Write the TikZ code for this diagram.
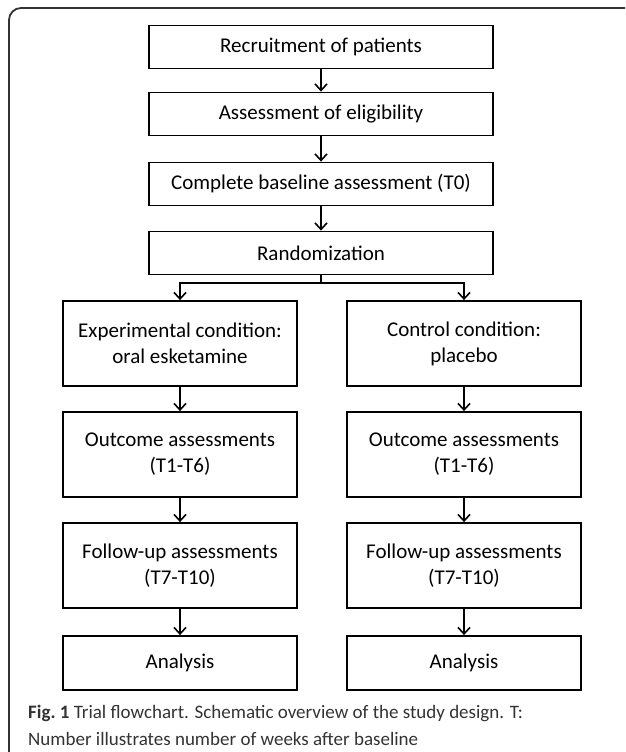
\documentclass[tikz,border=0pt]{standalone}
\usepackage{fontspec}
\setmainfont{Carlito}
\usepackage{tikz}
\usetikzlibrary{arrows.meta}
\definecolor{FrameGray}{HTML}{333333}

\begin{document}
\begin{tikzpicture}[
    x=1pt, y=-1pt,
    every node/.style={
        font=\fontsize{21}{26}\selectfont,
        align=center
    },
    stage/.style={
        rectangle,
        draw=black,
        line width=1.8pt,
        minimum width=344pt,
        minimum height=43pt,
        inner sep=0pt
    },
    armbox/.style={
        rectangle,
        draw=black,
        line width=1.8pt,
        minimum width=234pt,
        minimum height=85pt,
        inner sep=0pt
    },
    every path/.style={
        line width=1.6pt
    },
    flow/.style={
        -{Straight Barb[length=6.5pt,width=12pt,line width=1.6pt]}
    }
]
\useasboundingbox (0,0) rectangle (625,752);

% frame
\draw[FrameGray, line width=1.8pt, rounded corners=12pt]
    (625,8) -- (9,8) -- (9,752);

\node[stage] (recruit) at (321,47) {Recruitment of patients};
\node[stage] (elig) at (321,114) {Assessment of eligibility};
\node[stage] (base) at (321,184) {Complete baseline assessment (T0)};
\node[stage] (rand) at (321,253) {Randomization};

\node[armbox] (exp) at (180,343.5) {Experimental condition:\\oral esketamine};
\node[armbox] (expout) at (180,454.5) {Outcome assessments\\(T1-T6)};
\node[armbox] (expfol) at (180,565.5) {Follow-up assessments\\(T7-T10)};
\node[armbox, minimum height=54pt] (expana) at (180,663) {Analysis};

\node[armbox] (ctl) at (464,343.5) {Control condition:\\placebo};
\node[armbox] (ctlout) at (464,454.5) {Outcome assessments\\(T1-T6)};
\node[armbox] (ctlfol) at (464,565.5) {Follow-up assessments\\(T7-T10)};
\node[armbox, minimum height=54pt] (ctlana) at (464,663) {Analysis};

\coordinate (split) at (321,283);

\draw[flow] (recruit)--(elig);
\draw[flow] (elig)--(base);
\draw[flow] (base)--(rand);

\draw (rand.south)--(split);
\draw[flow] (split)-|(exp.north);
\draw[flow] (split)-|(ctl.north);

\draw[flow] (exp)--(expout);
\draw[flow] (expout)--(expfol);
\draw[flow] (expfol)--(expana);
\draw[flow] (ctl)--(ctlout);
\draw[flow] (ctlout)--(ctlfol);
\draw[flow] (ctlfol)--(ctlana);

% caption
\node[anchor=west, align=left, text=FrameGray,
      font=\fontsize{19}{27}\selectfont] (caption) at (24,725)
    {\textbf{Fig.\ 1} Trial flowchart. Schematic overview of the study design. T:\\
     Number illustrates number of weeks after baseline};

\end{tikzpicture}
\end{document}
